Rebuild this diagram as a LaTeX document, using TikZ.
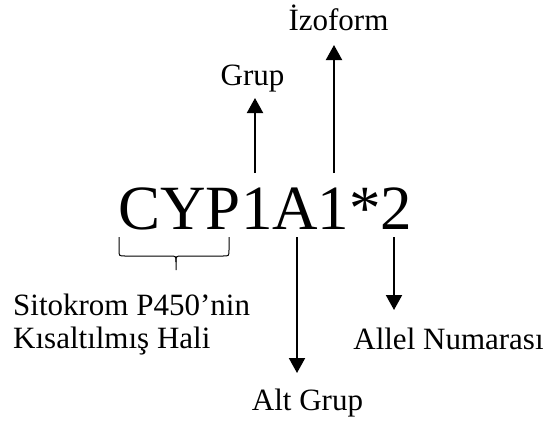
\documentclass[tikz,border=0pt]{standalone}
\usepackage{fontspec}
\setmainfont{Liberation Serif}
\usetikzlibrary{arrows.meta}
\tikzset{
  lbl/.style={inner sep=0pt, font=\fontsize{31}{33}\selectfont},
  big/.style={inner sep=0pt, font=\fontsize{63}{66}\selectfont},
  arr/.style={line width=2pt, -{Triangle[length=15pt,width=16pt]}},
  brace/.style={line width=1pt}
}
\begin{document}
\begin{tikzpicture}[x=1pt,y=-1pt]
\useasboundingbox[fill=white] (0,0) rectangle (549,424);
\node[big, anchor=base] (cyp) at (265.5,229) {CYP1A1*2};
\node[lbl, anchor=base] (grup) at (252.5,85) {Grup};
\node[lbl, anchor=base] (izo) at (338.5,30) {İzoform};
\node[lbl, anchor=base] (alt) at (307.5,410) {Alt Grup};
\node[lbl, anchor=base] (allel) at (448.5,349) {Allel Numarası};
\node[lbl, anchor=base west, align=left] (sito) at (13,348) {Sitokrom P450’nin\\Kısaltılmış Hali};
% arrow ends
\coordinate (g0) at (255,173); \coordinate (g1) at (255,98);
\coordinate (i0) at (334,173); \coordinate (i1) at (334,45);
\coordinate (a0) at (297,237); \coordinate (a1) at (297,373);
\coordinate (n0) at (394,237); \coordinate (n1) at (394,310);
\draw[arr] (g0) -- (g1);
\draw[arr] (i0) -- (i1);
\draw[arr] (a0) -- (a1);
\draw[arr] (n0) -- (n1);
% brace
\coordinate (bl) at (119,237); \coordinate (br) at (229,237); \coordinate (bt) at (176,270);
\draw[brace] (bl) -- (119,250) .. controls (119,256) .. (125,256) -- (170,256) .. controls (176,256) .. (176,262) -- (bt);
\draw[brace] (br) -- (229,250) .. controls (229,256) .. (223,256) -- (182,256) .. controls (176,256) .. (176,262);
\end{tikzpicture}
\end{document}
